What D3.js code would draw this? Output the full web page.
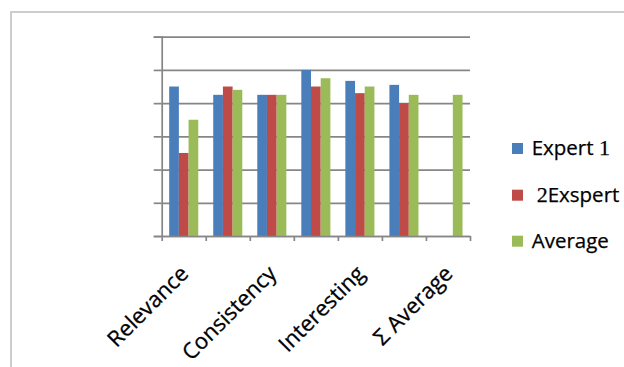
<!DOCTYPE html>
<html><head><meta charset="utf-8">
<script src="https://cdn.jsdelivr.net/npm/d3@7"></script>
<style>html,body{margin:0;padding:0;background:#fff;}svg{display:block;}</style>
</head><body>
<svg id="chart" width="624" height="367"></svg>
<script>
const categories = ["Relevance","c2","Consistency","c4","Interesting","c6","Σ Average"];
const tickLabels = ["Relevance","","Consistency","","Interesting","","Σ Average"];
const seriesNames = ["Expert 1","2Exspert","Average"];
const expert1 = [4.5, 4.25, 4.25, 5.0, 4.67, 4.55, null];
const expert2 = [2.5, 4.5, 4.25, 4.5, 4.3, 4.0, null];
const average = [3.5, 4.4, 4.25, 4.75, 4.5, 4.25, 4.25];
const yTicks = [0,1,2,3,4,5,6];
const colors = ["#4a7ebb","#be4b48","#9bbb59"];

(function(){
const svg = d3.select("#chart");
const sans = "'Open Sans', sans-serif";
const serif = "'Liberation Serif', 'DejaVu Serif', serif";

// chart frame
svg.append("path").attr("d","M11,367 L11,12 L624,12")
  .attr("fill","none").attr("stroke","#cdcdcd").attr("stroke-width",2);

const pLeft = 161.7, pRight = 470, pTop = 36.7, pBottom = 236;
const x = d3.scaleBand().domain(categories).range([pLeft, pRight]).padding(0);
const bw = x.bandwidth();
const x1 = d3.scaleBand().domain(seriesNames).range([bw*0.17, bw*0.83]).padding(0);
const y = d3.scaleLinear().domain([0,6]).range([pBottom, pTop]);

// gridlines + y ticks
const grid = svg.append("g").attr("transform",`translate(${pLeft},0)`)
  .call(d3.axisLeft(y).tickValues(yTicks).tickSize(-(pRight-pLeft)).tickFormat(""));
grid.select(".domain").remove();
grid.selectAll(".tick line").attr("stroke","#868686").attr("stroke-width",1.7);
const yt = svg.append("g").attr("transform",`translate(${pLeft},0)`)
  .call(d3.axisLeft(y).tickValues(yTicks).tickSize(8).tickFormat(""));
yt.select(".domain").attr("stroke","#868686").attr("stroke-width",1.7);
yt.selectAll(".tick line").attr("stroke","#868686").attr("stroke-width",1.7);

// bars
const series = [expert1, expert2, average];
series.forEach((vals, si) => {
  svg.append("g").selectAll("rect")
    .data(categories.map((c,i)=>({c, v: vals[i]})).filter(d=>d.v!=null))
    .join("rect")
    .attr("x", d => x(d.c) + x1(seriesNames[si]))
    .attr("width", x1.bandwidth())
    .attr("y", d => y(d.v))
    .attr("height", d => y(0) - y(d.v))
    .attr("fill", colors[si]);
});

// x axis with boundary ticks
const bounds = d3.scaleLinear().domain([0, categories.length]).range([pLeft, pRight]);
const xa = svg.append("g").attr("transform",`translate(0,${pBottom})`)
  .call(d3.axisBottom(bounds).tickValues(d3.range(categories.length+1)).tickSize(5).tickFormat("").tickSizeOuter(0));
xa.select(".domain").attr("stroke","#868686").attr("stroke-width",1.7);
xa.selectAll(".tick line").attr("stroke","#868686").attr("stroke-width",1.7);

// x labels
categories.forEach((c,i) => {
  if (!tickLabels[i]) return;
  const cx = x(c) + bw/2 + 6, cy = 275;
  svg.append("text").attr("transform",`translate(${cx},${cy}) rotate(-45)`)
    .attr("text-anchor","end").attr("font-family",sans).attr("font-size",22)
    .attr("font-weight",500).attr("stroke","#000").attr("stroke-width",0.3)
    .attr("fill","#000").text(tickLabels[i]);
});

// legend
const legBase = [155, 201.7, 247.7];
seriesNames.forEach((s,i) => {
  svg.append("rect").attr("x",512).attr("y",legBase[i]-12).attr("width",11).attr("height",11).attr("fill",colors[i]);
});
const t1 = svg.append("text").attr("x",531.7).attr("y",legBase[0]).attr("font-size",20.5).attr("fill","#000")
  .attr("stroke","#000").attr("stroke-width",0.25);
t1.append("tspan").attr("font-family",sans).attr("font-weight",500).text("Expert ");
t1.append("tspan").attr("font-family",serif).attr("font-size",22).text("1");
const t2 = svg.append("text").attr("x",536.7).attr("y",legBase[1]).attr("font-size",20.5).attr("fill","#000")
  .attr("stroke","#000").attr("stroke-width",0.25);
t2.append("tspan").attr("font-family",serif).attr("font-size",22).text("2");
t2.append("tspan").attr("font-family",sans).attr("font-weight",500).text("Exspert");
svg.append("text").attr("x",531.7).attr("y",legBase[2]).attr("font-size",20.5).attr("font-family",sans)
  .attr("font-weight",500).attr("stroke","#000").attr("stroke-width",0.25).attr("fill","#000").text("Average");
})();
</script>
</body></html>
